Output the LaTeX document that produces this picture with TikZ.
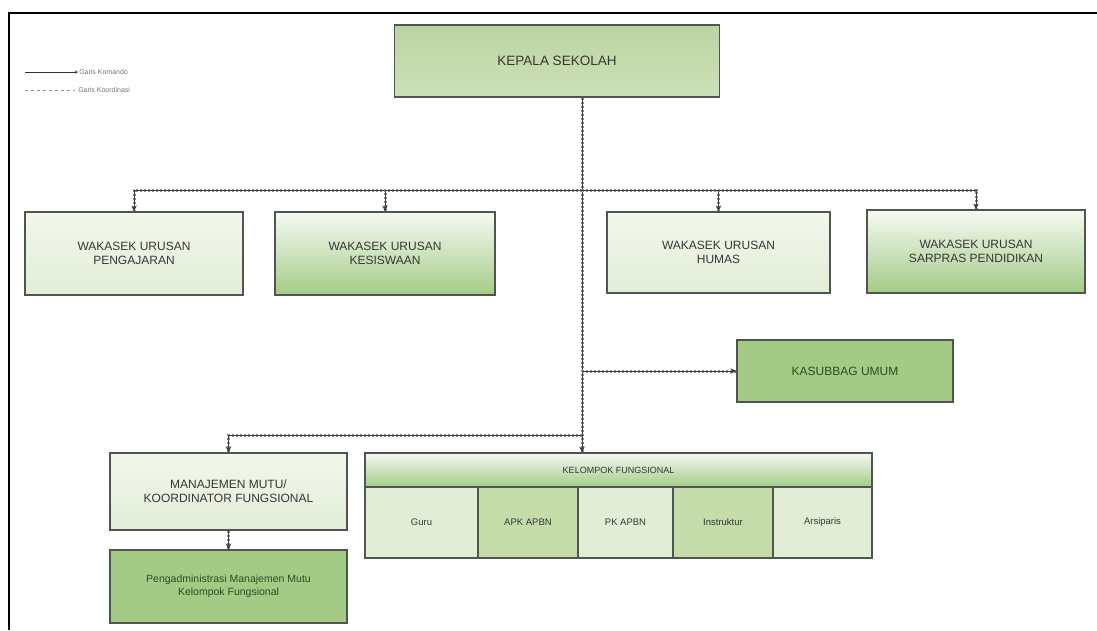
\documentclass[tikz,border=0pt]{standalone}
\usepackage{fontspec}
\setmainfont{Liberation Sans}
\usetikzlibrary{arrows.meta}

\definecolor{tepi}{HTML}{505550}
\definecolor{teks}{HTML}{363636}
\definecolor{hijaumuda}{HTML}{E2EDD6}
\definecolor{hijau}{HTML}{A3CB86}
\definecolor{hijausedang}{HTML}{C3DCAA}
\definecolor{hijautua}{HTML}{2F4A22}

\begin{document}
\begin{tikzpicture}[x=1pt, y=-1pt,
  kotak/.style={draw=tepi, line width=1.1pt, text=teks, align=center, inner sep=2pt,
    font=\fontsize{12}{14}\selectfont},
  muda/.style={kotak, top color=hijaumuda!45, bottom color=hijaumuda},
  pudar/.style={kotak, top color=hijaumuda!30, bottom color=hijau},
  penuh/.style={kotak, fill=hijau, text=hijautua},
  sel/.style={kotak, minimum height=71pt, font=\fontsize{9.5}{11}\selectfont},
  garis/.style={draw=black!75, line width=0.8pt,
    preaction={-, draw=black!45, line width=3pt, dash pattern=on 2.4pt off 1.6pt}},
  panah/.style={garis, -{Stealth[length=6pt,width=5.5pt]}}]

\useasboundingbox (0,0) rectangle (1097,630);
\draw[line width=1.5pt] (9,630) -- (9,13) -- (1097,13);

% keterangan
\coordinate (k1) at (25,72);
\coordinate (k2) at (25,90);
\draw[black!80, line width=0.5pt, -{Stealth[length=3pt,width=3pt]}] (k1) -- ++(53,0)
  node[right, inner sep=1pt, text=black!55, font=\fontsize{7}{8}\selectfont] {Garis Komando};
\draw[black!40, line width=0.5pt, dashed] (k2) -- ++(50,0)
  node[right, inner sep=3pt, text=black!55, font=\fontsize{7}{8}\selectfont] {Garis Koordinasi};

% pimpinan
\node[kotak, top color=hijausedang!80!black!20!hijausedang, bottom color=hijausedang!85,
  minimum width=325pt, minimum height=72pt, font=\fontsize{13.5}{16}\selectfont] (kepala) at (557,61) {KEPALA SEKOLAH};

% wakasek
\node[muda, minimum width=218pt, minimum height=83pt] (ajar) at (134,253.5) {WAKASEK URUSAN\\PENGAJARAN};
\node[pudar, minimum width=220pt, minimum height=83pt] (siswa) at (385,253.5) {WAKASEK URUSAN\\KESISWAAN};
\node[muda, minimum width=223pt, minimum height=81pt] (humas) at (718.5,252.5) {WAKASEK URUSAN\\HUMAS};
\node[pudar, minimum width=218pt, minimum height=83pt] (sarpras) at (976,251.5) {WAKASEK URUSAN\\SARPRAS PENDIDIKAN};

% kasubbag
\node[penuh, minimum width=216pt, minimum height=62pt] (umum) at (845,371) {KASUBBAG UMUM};

% manajemen mutu
\node[muda, minimum width=237pt, minimum height=77pt] (mutu) at (228.5,491.5) {MANAJEMEN MUTU/\\KOORDINATOR FUNGSIONAL};
\node[penuh, minimum width=237pt, minimum height=73pt, font=\fontsize{10.5}{13}\selectfont]
  (admin) at (228.5,586.5) {Pengadministrasi Manajemen Mutu\\Kelompok Fungsional};

% kelompok fungsional
\node[kotak, top color=hijaumuda!30, bottom color=hijau, minimum width=507pt, minimum height=34pt,
  font=\fontsize{9}{11}\selectfont] (kelompok) at (618.5,470) {KELOMPOK FUNGSIONAL};
\node[sel, fill=hijaumuda, minimum width=113pt] (guru) at (421.5,522.5) {Guru};
\node[sel, fill=hijausedang, minimum width=100pt] (apk) at (528,522.5) {APK APBN};
\node[sel, fill=hijaumuda, minimum width=95pt] (pk) at (625.5,522.5) {PK APBN};
\node[sel, fill=hijausedang, minimum width=100pt] (instruktur) at (723,522.5) {Instruktur};
\node[sel, fill=hijaumuda, minimum width=99pt] (arsip) at (822.5,522.5) {Arsiparis};

% garis penghubung
\coordinate (cabang) at (582,190);
\coordinate (simpul) at (582,435);
\draw[panah] (kepala.south -| cabang) -- (cabang |- kelompok.north);
\draw[panah] (cabang) -| (ajar.north);
\draw[panah] (cabang) -| (siswa.north);
\draw[panah] (cabang) -| (humas.north);
\draw[panah] (cabang) -| (sarpras.north);
\draw[panah] (cabang |- umum.west) -- (umum.west);
\draw[panah] (simpul) -| (mutu.north);
\draw[panah] (mutu.south) -- (admin.north);

\end{tikzpicture}
\end{document}
